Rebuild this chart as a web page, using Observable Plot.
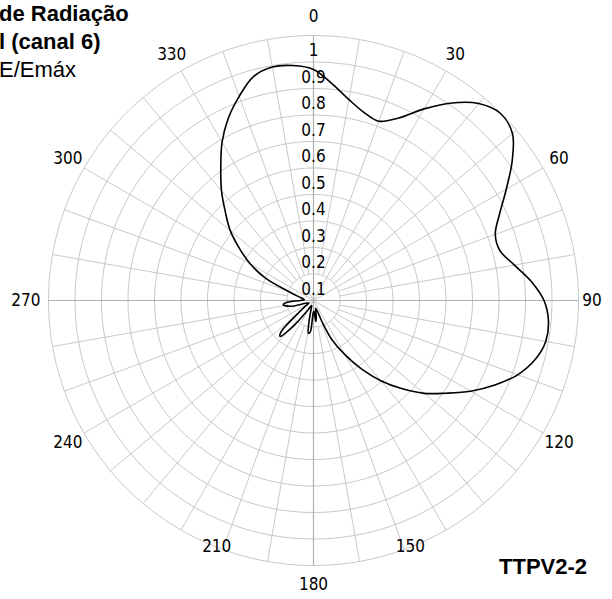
<!DOCTYPE html>
<html>
<head>
<meta charset="utf-8">
<script src="https://cdn.jsdelivr.net/npm/d3@7"></script>
<script src="https://cdn.jsdelivr.net/npm/@observablehq/plot@0.6"></script>
<style>
  html, body { margin: 0; padding: 0; background: #fff; }
  #wrap { position: relative; width: 612px; height: 599px; overflow: hidden; }
  #title { position: absolute; left: -1px; top: 0px; font-family: "Liberation Sans", Arial, sans-serif;
           font-size: 22px; line-height: 28px; color: #000; white-space: nowrap; }
  #title .b { font-weight: bold; }
  #code { position: absolute; left: 499px; top: 554px; font-family: "Liberation Sans", Arial, sans-serif;
          font-weight: bold; font-size: 22px; color: #000; white-space: nowrap; }
</style>
</head>
<body>
<div id="wrap">
  <div id="chart"></div>
  <div id="title"><div class="b">de Radiação</div><div class="b">l (canal 6)</div><div>E/Emáx</div></div>
  <div id="code">TTPV2-2</div>
</div>
<script>
// Radiation pattern: azimuth (degrees, clockwise from north) and relative field E/Emáx
const azimuths = [0, 5, 10, 15, 20, 25, 30, 35, 40, 45, 50, 55, 60, 65, 70, 75, 80, 85, 90, 95,
  100, 105, 110, 115, 120, 125, 130, 135, 140, 145, 150, 155, 158, 160, 165, 170, 174, 178, 182, 186,
  189, 192, 196, 200, 210, 218, 223, 226, 230, 235, 240, 250, 256, 262, 266, 270, 275, 280, 285, 290,
  295, 300, 305, 310, 315, 320, 325, 330, 335, 340, 345, 350, 355];
const fieldValues = [0.872, 0.82, 0.77, 0.735, 0.72, 0.76, 0.835, 0.91, 0.97, 0.998, 0.98, 0.915, 0.84, 0.775, 0.73, 0.728, 0.77, 0.825, 0.87, 0.89,
  0.89, 0.865, 0.82, 0.755, 0.685, 0.61, 0.545, 0.47, 0.395, 0.315, 0.235, 0.16, 0.09, 0.045, 0.03, 0.06, 0.08, 0.04, 0.05, 0.12,
  0.125, 0.08, 0.03, 0.02, 0.04, 0.12, 0.185, 0.17, 0.08, 0.04, 0.02, 0.03, 0.09, 0.115, 0.1, 0.05, 0.035, 0.04, 0.06, 0.1,
  0.2, 0.275, 0.34, 0.41, 0.47, 0.54, 0.61, 0.69, 0.76, 0.82, 0.875, 0.895, 0.89];

// Radial rings and their labels
const ringValues = [0.1, 0.2, 0.3, 0.4, 0.5, 0.6, 0.7, 0.8, 0.9, 1];
const ringLabels = ["0.1", "0.2", "0.3", "0.4", "0.5", "0.6", "0.7", "0.8", "0.9", "1"];

// Angular labels
const angleTicks = [0, 30, 60, 90, 120, 150, 180, 210, 240, 270, 300, 330];
const angleLabels = ["0", "30", "60", "90", "120", "150", "180", "210", "240", "270", "300", "330"];

// Spokes every 10 degrees
const spokeAngles = [0,10,20,30,40,50,60,70,80,90,100,110,120,130,140,150,160,170,
  180,190,200,210,220,230,240,250,260,270,280,290,300,310,320,330,340,350];

const rad = d => d * Math.PI / 180;
const px = (a, r) => r * Math.sin(rad(a));
const py = (a, r) => r * Math.cos(rad(a));

const pattern = azimuths.map((a, i) => ({a, r: fieldValues[i], x: px(a, fieldValues[i]), y: py(a, fieldValues[i])}));

const ringPts = [];
for (const v of ringValues) {
  for (let a = 0; a <= 360; a += 2) ringPts.push({ring: v, x: px(a, v), y: py(a, v)});
}

const spokes = spokeAngles.map(a => {
  const r0 = a % 30 === 0 ? 0 : 0.1;
  return {a, main: a % 90 === 0, x1: px(a, r0), y1: py(a, r0), x2: px(a, 1), y2: py(a, 1)};
});

const LR = 1.07;
const angleLabelData = angleTicks.map((a, i) => ({a, label: angleLabels[i], x: px(a, LR), y: py(a, LR)}));
const ringLabelData = ringValues.map((v, i) => ({label: ringLabels[i], x: 0, y: v - 0.058}));

const S = 265; // px per unit
const labelFont = "'Liberation Sans Narrow', 'DejaVu Sans Condensed', 'Liberation Sans', Arial, sans-serif";
const labelShift = {90: -5, 270: -4, 150: -45, 210: 45};

const chart = Plot.plot({
  width: 612,
  height: 599,
  marginLeft: 0, marginRight: 0, marginTop: 0, marginBottom: 0,
  x: {domain: [-313 / S, 299 / S], axis: null},
  y: {domain: [-299 / S, 300 / S], axis: null},
  style: {background: "#fff"},
  marks: [
    Plot.line(ringPts, {x: "x", y: "y", z: "ring", stroke: "#c8c8c8", strokeWidth: 1}),
    Plot.link(spokes.filter(d => !d.main), {x1: "x1", y1: "y1", x2: "x2", y2: "y2", stroke: "#c8c8c8", strokeWidth: 1}),
    Plot.link(spokes.filter(d => d.main), {x1: "x1", y1: "y1", x2: "x2", y2: "y2", stroke: "#b0b0b0", strokeWidth: 1.2}),
    Plot.text(ringLabelData, {x: "x", y: "y", text: "label", fontSize: 17, fontFamily: labelFont, fill: "#000", textAnchor: "middle"}),
    Plot.line(pattern, {x: "x", y: "y", curve: "catmull-rom-closed", stroke: "#000", strokeWidth: 1.6}),
    ...angleLabelData.map(d => Plot.text([d], {x: "x", y: "y", text: "label", dx: labelShift[d.a] || 0,
      fontSize: 17, fontFamily: labelFont, fill: "#000", textAnchor: "middle"}))
  ]
});
document.getElementById("chart").appendChild(chart);
</script>
</body>
</html>
